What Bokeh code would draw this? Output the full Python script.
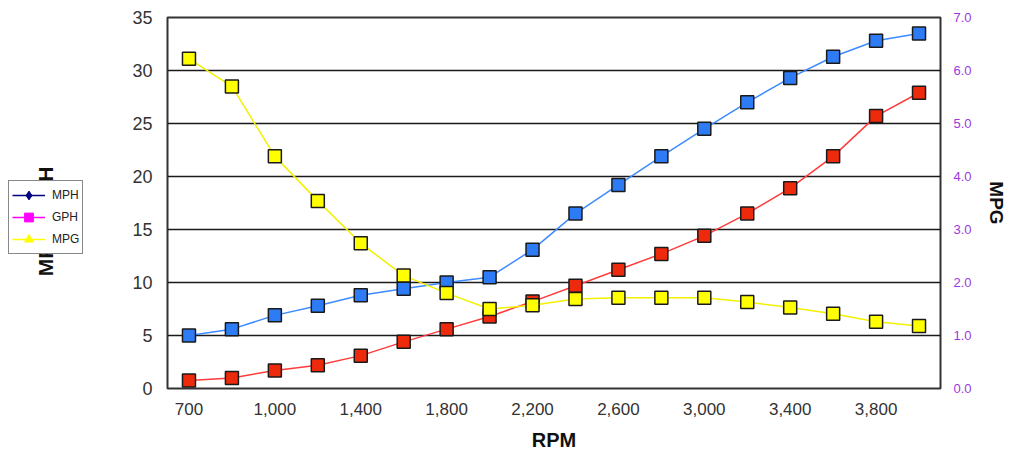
import math
from bokeh.plotting import figure
from bokeh.layouts import row
from bokeh.models import (Range1d, LinearAxis, FixedTicker, PrintfTickFormatter,
                          Legend, LegendItem, Label)
from bokeh.embed import file_html
from bokeh.resources import INLINE

# ---- data ----
rpm = ["700", "800", "1,000", "1,200", "1,400", "1,600", "1,800", "2,000", "2,200",
       "2,400", "2,600", "2,800", "3,000", "3,200", "3,400", "3,600", "3,800", "4,000"]
mph = [5.0, 5.6, 6.9, 7.8, 8.8, 9.4, 10.0, 10.5, 13.1, 16.5, 19.2, 21.9, 24.5, 27.0,
       29.3, 31.3, 32.8, 33.5]
gph = [0.75, 1.0, 1.7, 2.2, 3.1, 4.4, 5.6, 6.8, 8.2, 9.7, 11.2, 12.7, 14.4, 16.5,
       18.9, 21.9, 25.7, 27.9]
mpg = [6.22, 5.7, 4.38, 3.54, 2.74, 2.13, 1.8, 1.5, 1.57, 1.69, 1.71, 1.71, 1.71, 1.63,
       1.53, 1.41, 1.26, 1.18]
left_ticks = [0, 5, 10, 15, 20, 25, 30, 35]
right_ticks = [0, 1, 2, 3, 4, 5, 6, 7]
shown_rpm = ["700", "1,000", "1,400", "1,800", "2,200", "2,600", "3,000", "3,400", "3,800"]
legend_labels = ["MPH", "GPH", "MPG"]
# off-screen proxy point used only for drawing legend swatches
proxy_x = [-50]
proxy_y = [-50]

FONT = "Liberation Sans"
idx = list(range(len(rpm)))
x_ticks = [rpm.index(s) for s in shown_rpm]

# ---------------- main chart ----------------
p = figure(width=909, height=453, x_range=Range1d(-0.5, len(rpm) - 0.5),
           y_range=Range1d(0, 35), output_backend="svg", toolbar_location=None,
           min_border_left=67, min_border_right=67, min_border_top=17, min_border_bottom=64)
p.extra_y_ranges = {"mpg": Range1d(0, 7)}

p.background_fill_color = "white"
p.border_fill_color = "white"
p.outline_line_color = "#333333"
p.outline_line_width = 2
p.xgrid.grid_line_color = None
p.ygrid.ticker = FixedTicker(ticks=left_ticks)
p.ygrid.grid_line_color = "#1a1a1a"
p.ygrid.grid_line_width = 1.7

# x axis
xa = p.xaxis[0]
xa.ticker = FixedTicker(ticks=x_ticks)
xa.major_label_overrides = {i: rpm[i] for i in x_ticks}
xa.axis_line_color = None
xa.major_tick_line_color = None
xa.minor_tick_line_color = None
xa.major_tick_out = 0
xa.major_tick_in = 0
xa.minor_tick_out = 0
xa.major_label_standoff = 14
xa.major_label_text_font = FONT
xa.major_label_text_font_size = "17px"
xa.major_label_text_color = "#333333"
xa.axis_label = "RPM"
xa.axis_label_text_font = FONT
xa.axis_label_text_font_style = "bold"
xa.axis_label_text_font_size = "20px"
xa.axis_label_text_color = "#111111"
xa.axis_label_standoff = 11

# left axis
ya = p.yaxis[0]
ya.ticker = FixedTicker(ticks=left_ticks)
ya.axis_line_color = None
ya.major_tick_line_color = None
ya.minor_tick_line_color = None
ya.major_tick_out = 0
ya.major_tick_in = 0
ya.minor_tick_out = 0
ya.major_label_standoff = 15
ya.major_label_text_font = FONT
ya.major_label_text_font_size = "18px"
ya.major_label_text_color = "#333333"

# right axis
ra = LinearAxis(y_range_name="mpg", ticker=FixedTicker(ticks=right_ticks),
                formatter=PrintfTickFormatter(format="%.1f"))
ra.axis_line_color = None
ra.major_tick_line_color = None
ra.minor_tick_line_color = None
ra.major_tick_out = 0
ra.major_tick_in = 0
ra.minor_tick_out = 0
ra.major_label_standoff = 13
ra.major_label_text_font = FONT
ra.major_label_text_font_size = "13px"
ra.major_label_text_color = "#9c38e0"
ra.axis_label = "MPG"
ra.axis_label_text_font = FONT
ra.axis_label_text_font_style = "bold"
ra.axis_label_text_font_size = "19px"
ra.axis_label_text_color = "#111111"
ra.axis_label_standoff = 11
p.add_layout(ra, "right")

# series
p.line(idx, mph, line_color="#3d8bff", line_width=1.5)
p.scatter(idx, mph, marker="square", size=13, fill_color="#2e7bf6", line_color="#1a1a1a", line_width=1.5)
p.line(idx, gph, line_color="#ff3b3b", line_width=1.5)
p.scatter(idx, gph, marker="square", size=13, fill_color="#ee2a0c", line_color="#1a1a1a", line_width=1.5)
p.line(idx, mpg, line_color="#f2f200", line_width=1.5, y_range_name="mpg")
p.scatter(idx, mpg, marker="square", size=13, fill_color="#ffff00", line_color="#1a1a1a", line_width=1.5,
          y_range_name="mpg")

# ---------------- left strip: axis title + legend ----------------
q = figure(width=100, height=453, x_range=Range1d(0, 100), y_range=Range1d(0, 453),
           output_backend="svg", toolbar_location=None, x_axis_location=None, y_axis_location=None,
           min_border_left=0, min_border_right=0, min_border_top=0, min_border_bottom=0)
q.outline_line_color = None
q.grid.grid_line_color = None
q.background_fill_color = "white"
q.border_fill_color = "white"

l1 = q.line(proxy_x, proxy_y, line_color="#000080", line_width=1.5)
m1 = q.scatter(proxy_x, proxy_y, marker="diamond", size=11, fill_color="#000080", line_color="#000080")
l2 = q.line(proxy_x, proxy_y, line_color="#ff00ff", line_width=1.5)
m2 = q.scatter(proxy_x, proxy_y, marker="square", size=7, fill_color="#ff00ff", line_color="#ff00ff")
l3 = q.line(proxy_x, proxy_y, line_color="#ffff00", line_width=1.5)
m3 = q.scatter(proxy_x, proxy_y, marker="triangle", size=9, fill_color="#ffff00", line_color="#ffff00")

# frame of this strip is aligned with the main chart frame (y 17..389)
title = Label(x=45, y=167, x_units="screen", y_units="screen", text="MPH / GPH",
              angle=math.pi / 2, text_align="center", text_baseline="middle",
              text_font=FONT, text_font_style="bold", text_font_size="21px", text_color="#111111")
q.add_layout(title)

legend = Legend(items=[LegendItem(label=legend_labels[0], renderers=[l1, m1]),
                       LegendItem(label=legend_labels[1], renderers=[l2, m2]),
                       LegendItem(label=legend_labels[2], renderers=[l3, m3])],
                location=(8, 134))
legend.label_text_font = FONT
legend.label_text_font_size = "12px"
legend.label_text_color = "#222222"
legend.glyph_width = 33
legend.glyph_height = 22
legend.label_height = 22
legend.label_standoff = 7
legend.spacing = 0
legend.padding = 3
legend.margin = 0
legend.border_line_color = "#111111"
legend.border_line_width = 1
legend.background_fill_color = "white"
legend.background_fill_alpha = 1
q.add_layout(legend)

layout = row(q, p, spacing=0)
open("out.html", "w").write(file_html(layout, INLINE))
